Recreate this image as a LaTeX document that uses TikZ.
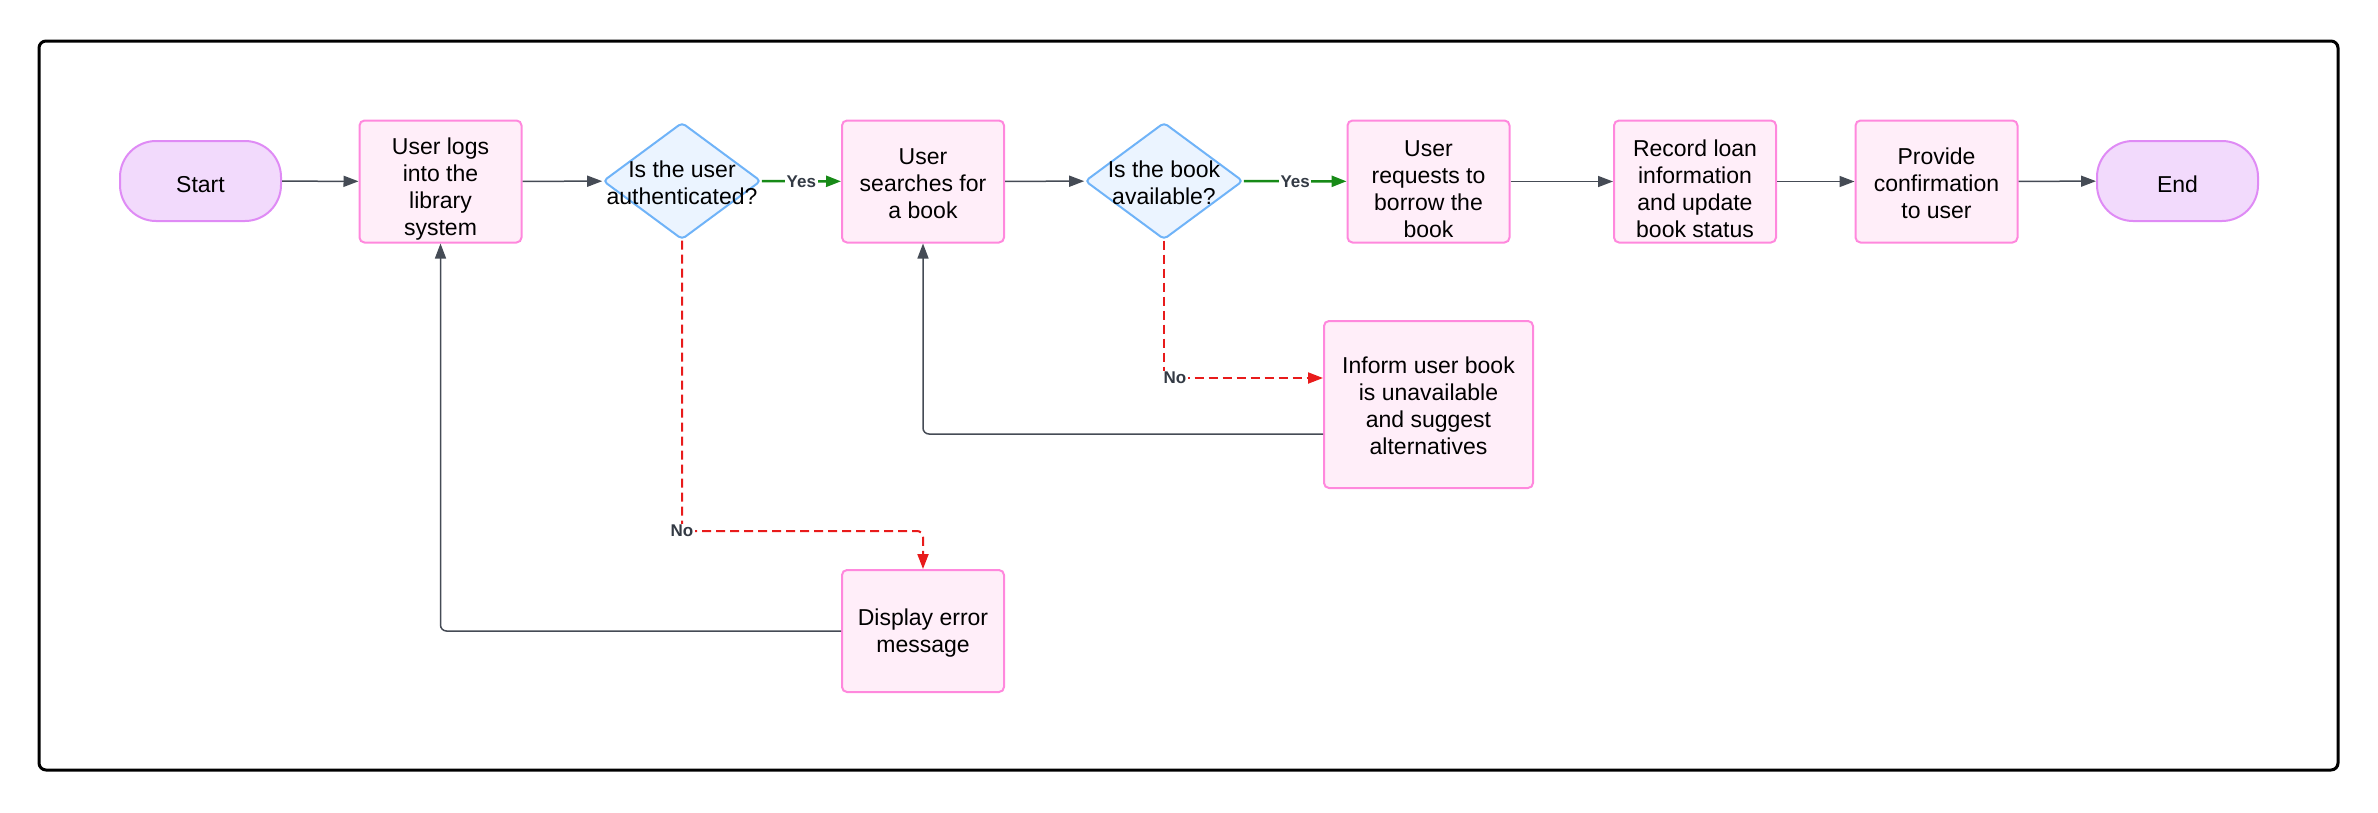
\documentclass[tikz,border=0pt]{standalone}
\usepackage{fontspec}
\setmainfont{Liberation Sans}
\usetikzlibrary{shapes.geometric,arrows.meta}
\definecolor{termfill}{HTML}{F2DAFC}
\definecolor{termline}{HTML}{DF8BF5}
\definecolor{procfill}{HTML}{FFEEF9}
\definecolor{procline}{HTML}{FF88DD}
\definecolor{decfill}{HTML}{EBF4FF}
\definecolor{decline}{HTML}{6FB3F8}
\definecolor{conncol}{HTML}{454B55}
\definecolor{yescol}{HTML}{178A17}
\definecolor{nocol}{HTML}{E81B1B}
\definecolor{labcol}{HTML}{333A44}
\newcommand\myStrut[1]{\rule{0pt}{#1pt}}
\begin{document}
\begin{tikzpicture}[x=1pt,y=-1pt,
  every node/.style={font=\fontsize{23}{27}\selectfont},
  term/.style={draw=termline, fill=termfill, line width=2pt, rounded corners=36pt, minimum width=161pt, minimum height=80pt, inner sep=0pt},
  proc/.style={draw=procline, fill=procfill, line width=2pt, rounded corners=5pt, minimum width=162pt, minimum height=122pt, inner sep=0pt, align=center},
  dec/.style={diamond, draw=decline, fill=decfill, line width=2pt, rounded corners=4pt, minimum width=158pt, minimum height=117pt, inner sep=0pt},
  dectext/.style={align=center},
  tip/.style={-{Triangle[length=15pt,width=11pt]}},
  conn/.style={draw=conncol, line width=1.5pt, tip},
  yesarr/.style={draw=yescol, line width=2.5pt, tip},
  noarr/.style={draw=nocol, line width=2pt, dash pattern=on 9pt off 5pt, tip},
  elabel/.style={font=\fontsize{17}{20}\selectfont\bfseries, text=labcol, fill=white, inner sep=1.5pt}
]
\useasboundingbox (0,0) rectangle (2378,812);
\draw[line width=3pt, rounded corners=7pt] (39,41) rectangle (2338,770);

% nodes
\node[term] (start) at (200.5,181) {\myStrut{22.5}Start};
\node[proc] (b1) at (440.5,181.5) {\myStrut{31.5}User logs\\into the\\library\\system};
\node[dec] (d1) at (682,181) {};
\node[dectext] (d1t) at (d1) {\myStrut{20}Is the user\\authenticated?};
\node[proc] (b2) at (923,181.5) {\myStrut{20}User\\searches for\\a book};
\node[dec] (d2) at (1164,181) {};
\node[dectext] (d2t) at (d2) {\myStrut{20}Is the book\\available?};
\node[proc] (b3) at (1428.5,181.5) {\myStrut{31.5}User\\requests to\\borrow the\\book};
\node[proc] (b4) at (1695,181.5) {\myStrut{31.5}Record loan\\information\\and update\\book status};
\node[proc] (b5) at (1936.5,181.5) {\myStrut{20}Provide\\confirmation\\to user};
\node[term] (end) at (2177.5,181) {\myStrut{22.5}End};
\node[proc, minimum width=209pt, minimum height=167pt] (inform) at (1428.5,404.5) {\myStrut{20}Inform user book\\is unavailable\\and suggest\\alternatives};
\node[proc] (disp) at (923,631) {\myStrut{20}Display error\\message};

% coordinates
\coordinate (n1) at (682,531);
\coordinate (n2) at (1164,378);
\coordinate (r1) at ([yshift=-29.5pt]inform.west);

% connectors
\draw[conn] (start) -- (b1);
\draw[conn] (b1) -- (d1);
\draw[yesarr] (d1) -- node[elabel] (y1) {Yes} (b2);
\draw[conn] (b2) -- (d2);
\draw[yesarr] (d2) -- node[elabel] (y2) {Yes} (b3);
\draw[conn] (b3) -- (b4);
\draw[conn] (b4) -- (b5);
\draw[conn] (b5) -- (end);
\draw[conn, rounded corners=6pt] (r1) -| (b2.south);
\draw[conn, rounded corners=6pt] (disp.west) -| (b1.south);
\draw[noarr, rounded corners=6pt] (d1.south) -- (n1) -| (disp.north);
\draw[noarr] (d2.south) -- (n2) -- (inform.west |- n2);
\node[elabel] (no1) at (n1) {No};
\node[elabel] (no2) at ([xshift=11pt]n2) {No};
\end{tikzpicture}
\end{document}
